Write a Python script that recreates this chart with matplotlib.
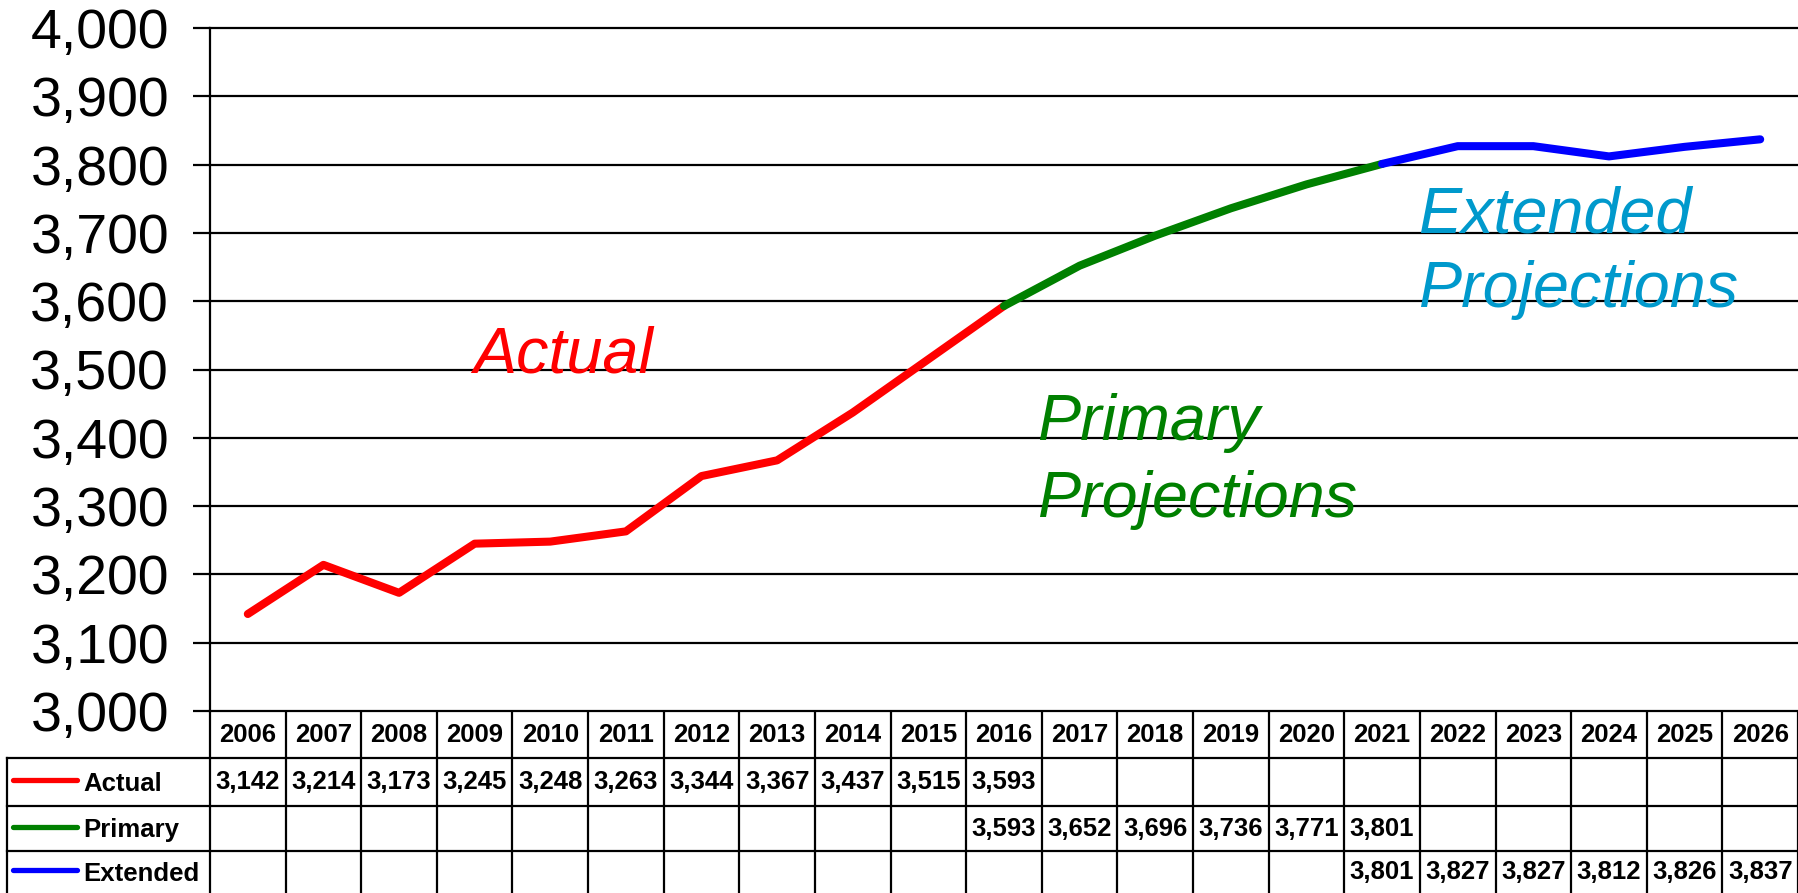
import matplotlib
matplotlib.use("Agg")
import numpy as np
import matplotlib.pyplot as plt
from matplotlib.transforms import blended_transform_factory
from matplotlib.ticker import FuncFormatter, MultipleLocator

# ---------------- data ----------------
years = ["2006", "2007", "2008", "2009", "2010", "2011", "2012", "2013", "2014",
         "2015", "2016", "2017", "2018", "2019", "2020", "2021", "2022", "2023",
         "2024", "2025", "2026"]
nan = np.nan
actual = [3142, 3214, 3173, 3245, 3248, 3263, 3344, 3367, 3437, 3515, 3593,
          nan, nan, nan, nan, nan, nan, nan, nan, nan, nan]
primary = [nan, nan, nan, nan, nan, nan, nan, nan, nan, nan, 3593,
           3652, 3696, 3736, 3771, 3801, nan, nan, nan, nan, nan]
extended = [nan, nan, nan, nan, nan, nan, nan, nan, nan, nan, nan,
            nan, nan, nan, nan, 3801, 3827, 3827, 3812, 3826, 3837]
series_names = ["Actual", "Primary", "Extended"]
series_colors = ["#FF0000", "#008000", "#0000FF"]
series_values = [actual, primary, extended]

# ---------------- figure ----------------
W, H = 1798, 893
fig = plt.figure(figsize=(W / 100, H / 100), dpi=100)
plt.rcParams["font.family"] = ["Liberation Sans", "DejaVu Sans"]

ax = fig.add_axes([210 / W, (H - 711) / H, (W - 210) / W, (711 - 28) / H])
x = np.arange(len(years))
for vals, col in zip(series_values, series_colors):
    ax.plot(x, vals, color=col, lw=5.8, solid_capstyle="round",
            solid_joinstyle="round", zorder=3, clip_on=False)

ax.set_xlim(-0.5, len(years) - 0.5)
ax.set_ylim(3000, 4000)
ax.yaxis.set_major_locator(MultipleLocator(100))
ax.yaxis.set_major_formatter(FuncFormatter(lambda v, p: f"{int(v):,}"))
ax.set_xticks([])
ax.grid(axis="y", color="black", lw=1.6, zorder=1)
for g in ax.get_ygridlines():
    g.set_clip_on(False)
for s in ["top", "right", "bottom"]:
    ax.spines[s].set_visible(False)
ax.spines["left"].set_linewidth(1.6)
ax.tick_params(axis="y", length=12.5, width=1.6, pad=17, labelsize=40,
               direction="out")

# annotations
italic = dict(style="italic", fontsize=46.5, va="baseline", ha="left")
ax.text(2.98, 3495, "Actual", color="#FF0000", **italic)
ax.text(10.44, 3397, "Primary", color="#008000", **italic)
ax.text(10.44, 3284, "Projections", color="#008000", **italic)
ax.text(15.48, 3700, "Extended", color="#0099CC", **italic)
ax.text(15.48, 3592, "Projections", color="#0099CC", **italic)

# ---------------- data table ----------------
tab = fig.add_axes([0, 0, 1, 1], zorder=-1)
tab.set_xlim(0, W)
tab.set_ylim(H, 0)
tab.axis("off")
tr = blended_transform_factory(ax.transData, tab.transData)

row_edges = [711, 758, 806, 851, 893]
lw_t = 1.6
n = len(years)
tfs = 18.5
# vertical column lines
for i in range(n + 1):
    tab.plot([i - 0.5, i - 0.5], [row_edges[0], H], color="black", lw=lw_t,
             transform=tr, clip_on=False)
# horizontal row lines
for yy in row_edges[1:4]:
    tab.plot([7, W], [yy, yy], color="black", lw=lw_t, clip_on=False)
tab.plot([7, 7], [row_edges[1], H], color="black", lw=lw_t, clip_on=False)

# header
hy = (row_edges[0] + row_edges[1]) / 2
for i, yr in enumerate(years):
    tab.text(i, hy, yr, transform=tr, ha="center", va="center",
             fontsize=tfs, fontweight="bold")

for r, (name, col, vals) in enumerate(zip(series_names, series_colors, series_values)):
    cy = (row_edges[r + 1] + row_edges[r + 2]) / 2
    tab.plot([13, 77], [cy - 2, cy - 2], color=col, lw=3.8, solid_capstyle="round")
    tab.text(83, cy + 2, name, ha="left", va="center", fontsize=tfs,
             fontweight="bold")
    for i, v in enumerate(vals):
        if not np.isnan(v):
            tab.text(i, cy, f"{int(v):,}", transform=tr, ha="center",
                     va="center", fontsize=tfs, fontweight="bold")

fig.savefig("out.png", dpi=100)
